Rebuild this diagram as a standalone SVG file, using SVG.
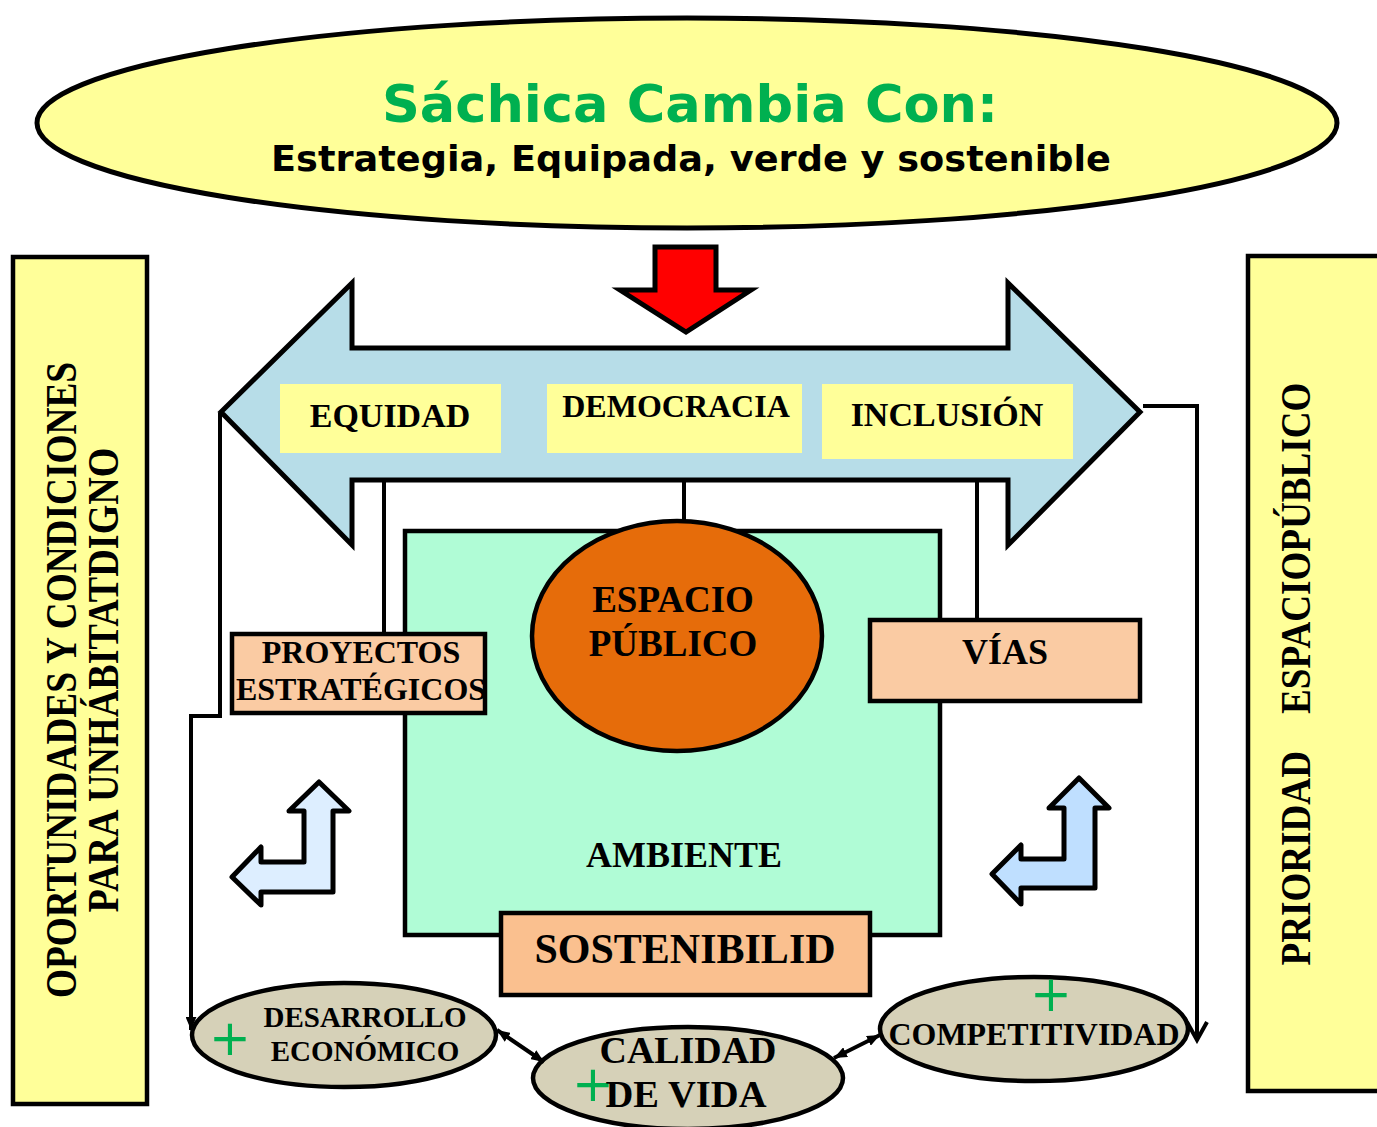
<svg xmlns="http://www.w3.org/2000/svg" width="1377" height="1127" viewBox="0 0 1377 1127">
<style>
.t{font-family:"Liberation Serif","Times New Roman",serif;font-weight:bold;text-anchor:middle;fill:#000}
.s{font-family:"DejaVu Sans","Liberation Sans",sans-serif;font-weight:bold;text-anchor:middle}
.plus{font-family:"DejaVu Sans",sans-serif;font-weight:normal;text-anchor:middle;fill:#00B050;font-size:50px}
.ol{stroke:#000;stroke-width:4.5}
.ln{fill:none;stroke:#000;stroke-width:4}
.lab{fill:#FFFF99}
.box{fill:#FACBA3;stroke:#000;stroke-width:4.5}
.oval{fill:#D6D1B8;stroke:#000;stroke-width:4.5}
</style>
<defs>
<marker id="ah" viewBox="0 0 12 10" refX="12" refY="5" markerWidth="13" markerHeight="11" markerUnits="userSpaceOnUse" orient="auto-start-reverse">
<path d="M0,0 L12,5 L0,10 z" fill="#000"/>
</marker>
<marker id="av" viewBox="0 0 24 24" refX="20" refY="12" markerWidth="24" markerHeight="24" markerUnits="userSpaceOnUse" orient="auto">
<path d="M2,2 L20,12 L2,22" fill="none" stroke="#000" stroke-width="4"/>
</marker>
</defs>

<g id="bar-left">
<rect x="13" y="257" width="134" height="847" class="lab ol"/>
<text class="t" font-size="44" transform="translate(76,680) rotate(-90)" textLength="636" lengthAdjust="spacingAndGlyphs">OPORTUNIDADES Y CONDICIONES</text>
<text class="t" font-size="44" transform="translate(118,680) rotate(-90)" textLength="465" lengthAdjust="spacingAndGlyphs">PARA UNHÁBITATDIGNO</text>
</g>

<g id="bar-right">
<rect x="1248" y="256" width="140" height="835" class="lab ol"/>
<text class="t" font-size="42" xml:space="preserve" transform="translate(1310,674) rotate(-90)" textLength="583" lengthAdjust="spacingAndGlyphs">PRIORIDAD    ESPACIOPÚBLICO</text>
</g>

<g id="title">
<ellipse cx="687" cy="123" rx="650" ry="105" fill="#FFFF99" stroke="#000" stroke-width="5"/>
<text class="s" x="690" y="122" font-size="52" fill="#00B050" textLength="616" lengthAdjust="spacingAndGlyphs">Sáchica Cambia Con:</text>
<text class="s" x="691" y="171" font-size="35" fill="#000" textLength="840" lengthAdjust="spacingAndGlyphs">Estrategia, Equipada, verde y sostenible</text>
</g>

<g id="red-arrow">
<polygon points="655,247 716,247 716,290 751,290 686,332 620,290 655,290" fill="#FF0000" stroke="#000" stroke-width="5"/>
</g>

<g id="big-arrow">
<polygon points="221,412 352,283 352,348 1008,348 1008,283 1140,412 1008,545 1008,480 352,480 352,545" fill="#B7DDE8" stroke="#000" stroke-width="5"/>
</g>

<g id="equidad">
<rect x="280" y="384" width="221" height="69" class="lab"/>
<text class="t" x="390" y="427" font-size="34">EQUIDAD</text>
</g>
<g id="democracia">
<rect x="547" y="384" width="255" height="69" class="lab"/>
<text class="t" x="676" y="417" font-size="32">DEMOCRACIA</text>
</g>
<g id="inclusion">
<rect x="822" y="384" width="251" height="75" class="lab"/>
<text class="t" x="947" y="426" font-size="34">INCLUSIÓN</text>
</g>

<g id="ambiente">
<rect x="405" y="531" width="535" height="404" fill="#B0FCD6" stroke="#000" stroke-width="4.5"/>
<text class="t" x="684" y="867" font-size="36">AMBIENTE</text>
</g>

<g id="espacio-publico">
<ellipse cx="677" cy="636" rx="145" ry="115" fill="#E66C0A" stroke="#000" stroke-width="4.5"/>
<text class="t" x="673" y="612" font-size="37">ESPACIO</text>
<text class="t" x="673" y="656" font-size="37">PÚBLICO</text>
</g>

<g id="proyectos">
<rect x="232" y="634" width="253" height="79" class="box"/>
<text class="t" x="361" y="663" font-size="32">PROYECTOS</text>
<text class="t" x="361" y="700" font-size="32">ESTRATÉGICOS</text>
</g>

<g id="vias">
<rect x="870" y="620" width="270" height="81" class="box"/>
<text class="t" x="1005" y="664" font-size="36">VÍAS</text>
</g>

<g id="sostenibilidad">
<rect x="501" y="913" width="369" height="82" fill="#FAC08F" stroke="#000" stroke-width="4.5"/>
<text class="t" x="685" y="963" font-size="42">SOSTENIBILID</text>
</g>

<g id="bent-left">
<polygon points="319,782 349,811 333,811 333,892 261,892 261,905 232,877 261,847 261,862 304,862 304,811 289,811" fill="#DDEEFF" stroke="#000" stroke-width="5" stroke-linejoin="round"/>
</g>
<g id="bent-right">
<polygon points="1079,778 1109,808 1095,808 1095,888 1021,888 1021,904 992,874 1021,845 1021,859 1064,859 1064,808 1049,808" fill="#BFDFFF" stroke="#000" stroke-width="5" stroke-linejoin="round"/>
</g>

<g id="desarrollo">
<ellipse cx="344" cy="1035" rx="152" ry="52" class="oval"/>
<text class="plus" x="230" y="1055">+</text>
<text class="t" x="365" y="1027" font-size="29">DESARROLLO</text>
<text class="t" x="365" y="1061" font-size="29">ECONÓMICO</text>
</g>

<g id="calidad">
<ellipse cx="688" cy="1078" rx="155" ry="51" class="oval"/>
<text class="t" x="688" y="1063" font-size="38" textLength="177" lengthAdjust="spacingAndGlyphs">CALIDAD</text>
<text class="plus" x="593" y="1101">+</text>
<text class="t" x="686" y="1107" font-size="38" textLength="161" lengthAdjust="spacingAndGlyphs">DE VIDA</text>
</g>

<g id="competitividad">
<ellipse cx="1034" cy="1029" rx="154" ry="52" class="oval"/>
<text class="plus" x="1051" y="1011">+</text>
<text class="t" x="1034" y="1045" font-size="31" textLength="291" lengthAdjust="spacingAndGlyphs">COMPETITIVIDAD</text>
</g>

<g id="connectors">
<line x1="384" y1="478" x2="384" y2="634" class="ln"/>
<line x1="684" y1="480" x2="684" y2="522" class="ln"/>
<line x1="977" y1="480" x2="977" y2="620" class="ln"/>
<polyline points="220,413 220,716 191,716 191,1030" class="ln" marker-end="url(#ah)"/>
<polyline points="1143,406 1197,406 1197,1040" class="ln" marker-end="url(#av)"/>
<line x1="497" y1="1030" x2="544" y2="1062" class="ln" marker-start="url(#ah)" marker-end="url(#ah)"/>
<line x1="834" y1="1058" x2="880" y2="1035" class="ln" marker-start="url(#ah)" marker-end="url(#ah)"/>
</g>
</svg>
